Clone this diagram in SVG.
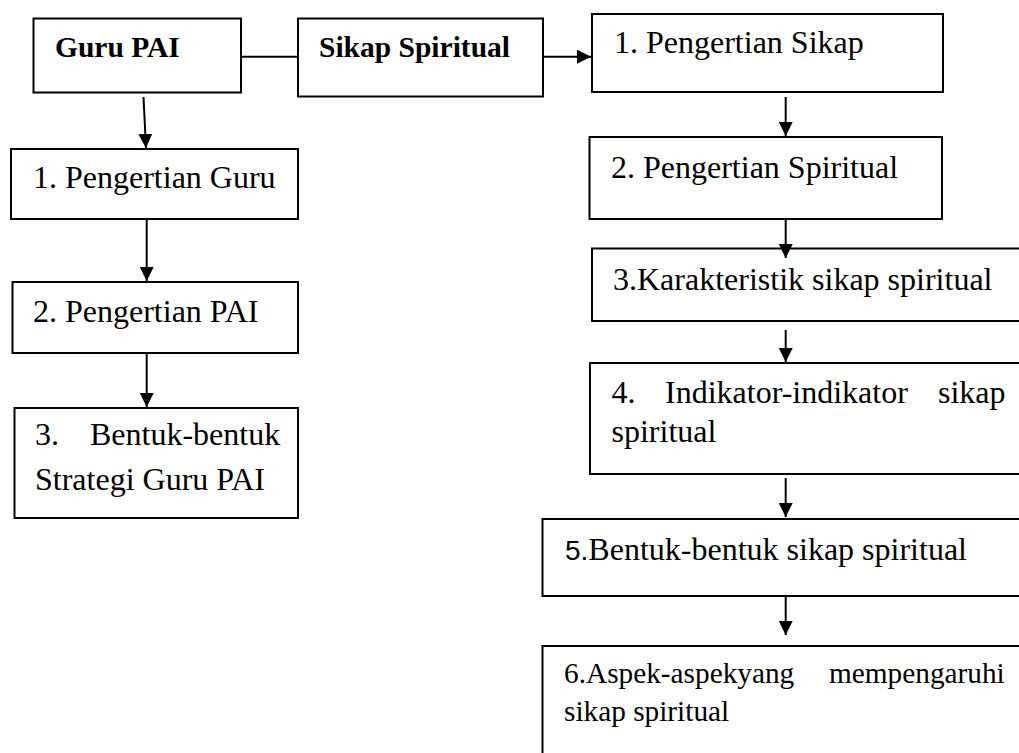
<svg xmlns="http://www.w3.org/2000/svg" width="1019" height="753" viewBox="0 0 1019 753">
  <style>
    .box { fill: #ffffff; stroke: #000000; stroke-width: 2; }
    .t { font-family: "Liberation Serif", "Times New Roman", serif; font-size: 32px; fill: #000000; }
    .t6 { font-family: "Liberation Serif", "Times New Roman", serif; font-size: 29.3px; fill: #000000; }
    .b { font-family: "Liberation Serif", "Times New Roman", serif; font-size: 29.5px; font-weight: bold; fill: #000000; }
    .c { stroke: #000000; stroke-width: 2; fill: none; }
    .s { font-family: "Liberation Sans", Arial, sans-serif; font-size: 28px; }
  </style>
  <defs>
    <marker id="arr" markerUnits="userSpaceOnUse" markerWidth="15" markerHeight="14" refX="14" refY="7" orient="auto">
      <path d="M0,0 L14,7 L0,14 z" fill="#000000"/>
    </marker>
  </defs>
  <rect width="1019" height="753" fill="#ffffff"/>

  <g id="node-guru-pai">
    <rect class="box" x="33.5" y="18.5" width="207.5" height="74"/>
    <text class="b" x="55" y="57">Guru PAI</text>
  </g>
  <g id="node-sikap-spiritual">
    <rect class="box" x="298" y="18.5" width="245" height="78"/>
    <text class="b" x="319" y="57">Sikap Spiritual</text>
  </g>

  <g id="node-pengertian-guru">
    <rect class="box" x="11" y="149" width="287" height="70"/>
    <text class="t" x="33" y="188">1. Pengertian Guru</text>
  </g>
  <g id="node-pengertian-pai">
    <rect class="box" x="12.5" y="282" width="285.5" height="71"/>
    <text class="t" x="33" y="322">2. Pengertian PAI</text>
  </g>
  <g id="node-bentuk-strategi">
    <rect class="box" x="14.5" y="408" width="283.5" height="110"/>
    <text class="t" y="445"><tspan x="35">3.</tspan><tspan x="90">Bentuk-bentuk</tspan></text>
    <text class="t" x="35" y="490">Strategi Guru PAI</text>
  </g>

  <g id="node-pengertian-sikap">
    <rect class="box" x="592" y="14" width="351" height="78"/>
    <text class="t" x="614" y="53">1. Pengertian Sikap</text>
  </g>
  <g id="node-pengertian-spiritual">
    <rect class="box" x="589.5" y="137" width="352.5" height="82"/>
    <text class="t" x="611" y="178">2. Pengertian Spiritual</text>
  </g>
  <g id="node-karakteristik">
    <rect class="box" x="592" y="248.5" width="440" height="72.5"/>
    <text class="t" x="613" y="290">3.Karakteristik sikap spiritual</text>
  </g>
  <g id="node-indikator">
    <rect class="box" x="590" y="363" width="442" height="111"/>
    <text class="t" y="403"><tspan x="611.5">4.</tspan><tspan x="665">Indikator-indikator</tspan><tspan x="938">sikap</tspan></text>
    <text class="t" x="611.5" y="442">spiritual</text>
  </g>
  <g id="node-bentuk-sikap">
    <rect class="box" x="542.5" y="519" width="490" height="77"/>
    <text class="t" x="565" y="560"><tspan class="s">5.</tspan>Bentuk-bentuk sikap spiritual</text>
  </g>
  <g id="node-aspek">
    <rect class="box" x="542.5" y="646" width="490" height="120"/>
    <text class="t6" y="683"><tspan x="564">6.Aspek-aspekyang</tspan><tspan x="829">mempengaruhi</tspan></text>
    <text class="t6" x="564" y="721">sikap spiritual</text>
  </g>

  <g id="connectors">
    <line class="c" x1="241" y1="56.7" x2="298" y2="56.7"/>
    <line class="c" x1="543" y1="56.7" x2="591" y2="56.7" marker-end="url(#arr)"/>
    <line class="c" x1="143.5" y1="97" x2="146" y2="148" marker-end="url(#arr)"/>
    <line class="c" x1="146.7" y1="219" x2="146.7" y2="281" marker-end="url(#arr)"/>
    <line class="c" x1="146.7" y1="353" x2="146.7" y2="407" marker-end="url(#arr)"/>
    <line class="c" x1="785.7" y1="97" x2="785.7" y2="136" marker-end="url(#arr)"/>
    <line class="c" x1="785.7" y1="219" x2="785.7" y2="258" marker-end="url(#arr)"/>
    <line class="c" x1="785.7" y1="330" x2="785.7" y2="362" marker-end="url(#arr)"/>
    <line class="c" x1="785.7" y1="478" x2="785.7" y2="517" marker-end="url(#arr)"/>
    <line class="c" x1="785.7" y1="596" x2="785.7" y2="635" marker-end="url(#arr)"/>
  </g>
</svg>
